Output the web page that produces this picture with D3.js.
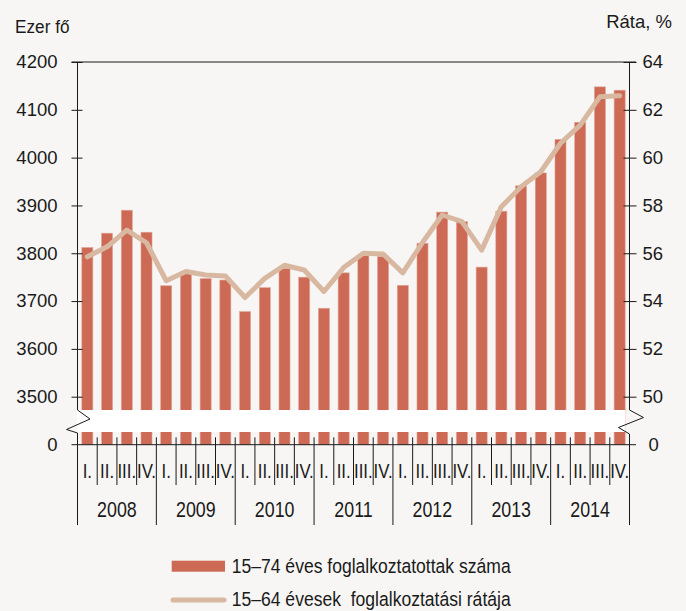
<!DOCTYPE html>
<html>
<head>
<meta charset="utf-8">
<script src="https://cdn.jsdelivr.net/npm/d3@7"></script>
<style>
  html, body { margin: 0; padding: 0; background: #f7f6f4; }
  svg { display: block; font-family: "Liberation Sans", Arial, sans-serif; }
</style>
</head>
<body>
<svg id="chart" width="686" height="611"></svg>
<script>
const years = ["2008", "2009", "2010", "2011", "2012", "2013", "2014"];
const quarters = ["I.", "II.", "III.", "IV."];
const employed = [3812, 3842, 3890, 3844, 3732, 3759, 3747, 3744, 3678, 3728, 3768, 3750,
                  3685, 3759, 3795, 3793, 3733, 3821, 3886, 3866, 3771, 3888, 3941, 3968,
                  4038, 4074, 4148, 4141];
const rate = [55.85, 56.27, 56.97, 56.44, 54.85, 55.24, 55.09, 55.05, 54.15, 54.95, 55.5, 55.3,
              54.4, 55.4, 56.0, 55.97, 55.18, 56.45, 57.6, 57.32, 56.13, 57.95, 58.78, 59.41,
              60.6, 61.36, 62.55, 62.59];
const leftTicks = [3500, 3600, 3700, 3800, 3900, 4000, 4100, 4200];
const rightTicks = [50, 52, 54, 56, 58, 60, 62, 64];
const seriesNames = ["15–74 éves foglalkoztatottak száma", "15–64 évesek  foglalkoztatási rátája"];
const axisTitles = ["Ezer fő", "Ráta, %"];

const svg = d3.select("#chart");
const x0 = 77.5, x1 = 629.5, yTop = 62, yLow = 396.7, yZero = 444.7;
const breakTop = 410, breakBot = 432;
const barColor = "#cd6a55", lineColor = "#d8b8a0", ink = "#1a1a1a";

svg.append("rect").attr("width", 686).attr("height", 611).attr("fill", "#f7f6f4");

const idx = d3.range(employed.length);
const x = d3.scaleBand().domain(idx).range([x0, x1]).paddingInner(0.44).paddingOuter(0.22);
const xStep = d3.scaleBand().domain(idx).range([x0, x1]).padding(0);
const xYear = d3.scaleBand().domain(years).range([x0, x1]).padding(0);
const yL = d3.scaleLinear().domain([3500, 4200]).range([yLow, yTop]);
const yR = d3.scaleLinear().domain([50, 64]).range([yLow, yTop]);

// bars
svg.append("g").selectAll("rect").data(employed).join("rect")
  .attr("x", (d, i) => x(i)).attr("width", x.bandwidth())
  .attr("y", d => yL(d)).attr("height", d => yZero - yL(d))
  .attr("fill", barColor).attr("stroke", "#e2a595").attr("stroke-width", 0.6);

// line
svg.append("path").datum(rate)
  .attr("fill", "none").attr("stroke", lineColor).attr("stroke-width", 5)
  .attr("stroke-linejoin", "round").attr("stroke-linecap", "round")
  .attr("d", d3.line().x((d, i) => x(i) + x.bandwidth() / 2).y(d => yR(d)));

// break band
svg.append("rect").attr("x", x0 - 0.5).attr("y", breakTop).attr("width", 626 - x0)
  .attr("height", breakBot - breakTop).attr("fill", "#ffffff");

// top border
svg.append("line").attr("x1", x0 - 6).attr("x2", x1 + 6.5).attr("y1", yTop).attr("y2", yTop)
  .attr("stroke", ink).attr("stroke-width", 1);

// left axis
const leftAxis = svg.append("g").attr("transform", `translate(${x0 + 5},0)`)
  .call(d3.axisLeft(yL).tickValues(leftTicks).tickFormat(d3.format("d")).tickSize(11).tickPadding(14));
leftAxis.select(".domain").remove();
leftAxis.selectAll("line").attr("stroke", ink);
leftAxis.selectAll("text").attr("font-size", 18.5).attr("fill", ink)
  .attr("font-family", "Liberation Sans, Arial, sans-serif");

const rightAxis = svg.append("g").attr("transform", `translate(${x1 - 6},0)`)
  .call(d3.axisRight(yR).tickValues(rightTicks).tickFormat(d3.format("d")).tickSize(13).tickPadding(6));
rightAxis.select(".domain").remove();
rightAxis.selectAll("line").attr("stroke", ink);
rightAxis.selectAll("text").attr("font-size", 18.5).attr("fill", ink)
  .attr("font-family", "Liberation Sans, Arial, sans-serif");

// axis lines with breaks
const axG = svg.append("g").attr("fill", "none").attr("stroke", ink).attr("stroke-width", 1);
axG.append("path").attr("d", `M${x0},${yTop}V${breakTop}L${x0 + 12.5},419L${x0 - 11},429.5L${x0},${breakBot + 1}V525`);
axG.append("path").attr("d", `M${x1},${yTop}V${breakTop}L${x1 + 14},417.5L${x1 - 11},427.5L${x1},434V525`);
axG.append("line").attr("x1", x0 - 6).attr("x2", x1 + 6.5).attr("y1", yZero).attr("y2", yZero);

// zero labels
svg.append("text").attr("x", x0 - 20).attr("y", yZero).attr("dy", "0.32em")
  .attr("text-anchor", "end").attr("font-size", 18.5).attr("fill", ink).text("0");
svg.append("text").attr("x", x1 + 19).attr("y", yZero).attr("dy", "0.32em")
  .attr("text-anchor", "start").attr("font-size", 18.5).attr("fill", ink).text("0");

// quarter boundaries and year boundaries
const bounds = d3.range(employed.length + 1).map(i => i < employed.length ? xStep(i) : x1);
svg.append("g").selectAll("line").data(bounds).join("line")
  .attr("x1", d => d).attr("x2", d => d)
  .attr("y1", 437.3).attr("y2", (d, i) => i % 4 === 0 ? 525 : 485)
  .attr("stroke", ink).attr("stroke-width", 1);

// quarter labels
svg.append("g").selectAll("text").data(idx).join("text")
  .attr("transform", i => `translate(${xStep(i) + xStep.bandwidth() / 2},478.3) scale(0.8,1)`)
  .attr("text-anchor", "middle").attr("font-size", 21).attr("fill", ink)
  .text(i => quarters[i % 4]);

// year labels
svg.append("g").selectAll("text").data(years).join("text")
  .attr("transform", d => `translate(${xYear(d) + xYear.bandwidth() / 2},517.3) scale(0.81,1)`)
  .attr("text-anchor", "middle").attr("font-size", 22).attr("fill", ink)
  .text(d => d);

// axis titles
svg.append("text").attr("x", 15).attr("y", 33).attr("font-size", 18.5).attr("fill", ink)
  .attr("transform", "translate(15,0) scale(0.93,1) translate(-15,0)").text(axisTitles[0]);
svg.append("text").attr("x", 672).attr("y", 28.3).attr("text-anchor", "end").attr("font-size", 18.5)
  .attr("fill", ink).text(axisTitles[1]);

// legend
const lg = svg.append("g");
lg.append("rect").attr("x", 171.7).attr("y", 560.7).attr("width", 53.3).attr("height", 11).attr("fill", barColor);
lg.append("line").attr("x1", 173).attr("x2", 224).attr("y1", 600).attr("y2", 600)
  .attr("stroke", lineColor).attr("stroke-width", 5).attr("stroke-linecap", "round");
lg.selectAll("text").data(seriesNames).join("text")
  .attr("transform", (d, i) => `translate(231.7,${i === 0 ? 573.3 : 605.5}) scale(0.9,1)`)
  .attr("font-size", 19.5).attr("fill", ink).attr("xml:space", "preserve")
  .style("white-space", "pre")
  .text(d => d);
</script>
</body>
</html>
